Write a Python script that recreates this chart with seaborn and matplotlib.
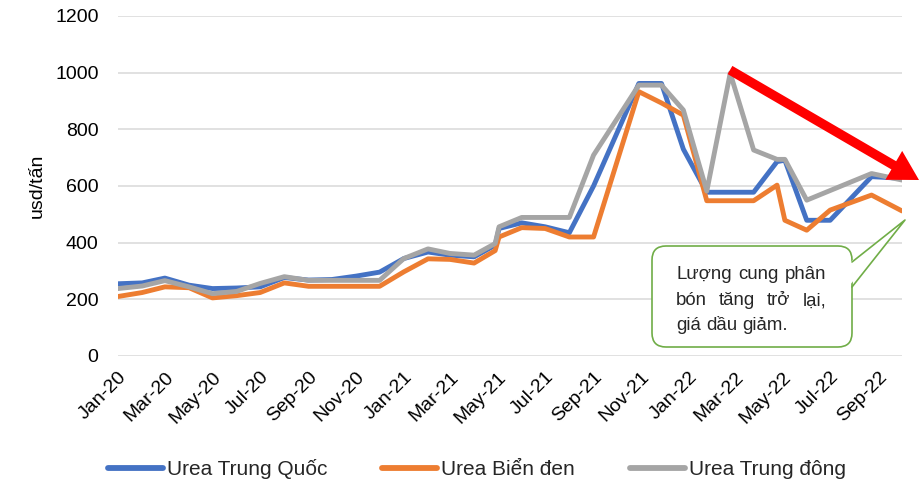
import numpy as np
import pandas as pd
import matplotlib.pyplot as plt
import matplotlib.dates as mdates
from matplotlib.patches import FancyBboxPatch, Polygon
from matplotlib.lines import Line2D
import seaborn as sns

sns.set_theme(style="white")
plt.rcParams["font.family"] = ["Liberation Sans", "DejaVu Sans"]

# ── data ────────────────────────────────────────────────────
DATES = [
    "2020-01-01", "2020-02-01", "2020-03-01", "2020-04-01", "2020-05-01",
    "2020-06-01", "2020-07-01", "2020-08-01", "2020-09-01", "2020-10-01",
    "2020-11-01", "2020-12-01", "2021-01-01", "2021-02-01", "2021-03-01",
    "2021-04-01", "2021-04-28", "2021-05-03", "2021-06-01", "2021-07-01",
    "2021-08-01", "2021-09-01", "2021-10-29", "2021-11-27", "2021-12-25",
    "2022-01-24", "2022-02-23", "2022-03-25", "2022-04-24", "2022-05-04",
    "2022-06-01", "2022-07-01", "2022-08-23", "2022-10-01",
]
UREA_CN = [255, 258, 275, 250, 238, 240, 244, 277, 268, 270, 282, 296,
           344, 367, 356, 350, 391, 450, 470, 456, 435, 600, 962, 962,
           730, 578, 578, 578, 686, 691, 479, 479, 633, 627]
UREA_BS = [210, 224, 244, 241, 205, 213, 224, 258, 246, 246, 246, 246,
           297, 343, 341, 328, 372, 420, 453, 450, 420, 420, 933, 893,
           850, 548, 548, 548, 603, 479, 444, 515, 568, 512]
UREA_ME = [238, 247, 266, 244, 220, 228, 256, 280, 267, 267, 267, 267,
           344, 378, 362, 356, 397, 456, 489, 489, 489, 709, 956, 956,
           868, 582, 998, 727, 694, 694, 550, 584, 644, 621]

SERIES = ["Urea Trung Quốc", "Urea Biển đen", "Urea Trung đông"]
COLORS = ["#4472C4", "#ED7D31", "#A5A5A5"]
Y_TICKS = [0, 200, 400, 600, 800, 1000, 1200]
NOTE_LINES = ["Lượng cung phân", "bón tăng trở lại,", "giá dầu giảm."]

df = pd.DataFrame({
    "date": pd.to_datetime(DATES * 3),
    "value": UREA_CN + UREA_BS + UREA_ME,
    "series": np.repeat(SERIES, len(DATES)),
})

W, H = 922, 482


def px(x, y):
    # pixel position (from top-left) -> inches for dpi_scale_trans
    return (x / 100, (H - y) / 100)


fig = plt.figure(figsize=(W / 100, H / 100), dpi=100)
ax = fig.add_axes([118 / W, 1 - 356 / H, (902 - 118) / W, (356 - 16) / H])

sns.lineplot(data=df, x="date", y="value", hue="series", hue_order=SERIES,
             palette=COLORS, linewidth=3.5, estimator=None, sort=False,
             legend=False, ax=ax)

ax.set_xlim(pd.Timestamp(DATES[0]), pd.Timestamp(DATES[-1]))
ax.set_ylim(0, 1200)
ax.set_yticks(Y_TICKS)
ax.yaxis.grid(True, color="#D9D9D9", lw=1.1)
ax.set_axisbelow(True)
for s in ax.spines.values():
    s.set_visible(False)

ax.xaxis.set_major_locator(mdates.MonthLocator(bymonth=[1, 3, 5, 7, 9, 11]))
ax.xaxis.set_major_formatter(mdates.DateFormatter("%b-%y"))
ax.tick_params(axis="both", length=0, labelsize=14, colors="#000000")
ax.tick_params(axis="y", pad=14)
ax.tick_params(axis="x", pad=9)
for lbl in ax.get_xticklabels():
    lbl.set_rotation(45)
    lbl.set_ha("right")
    lbl.set_va("top")
    lbl.set_rotation_mode("anchor")

ax.set_xlabel("")
ax.set_ylabel("usd/tấn", fontsize=14, color="#000000")
ax.yaxis.set_label_coords(-0.092, 0.5)

handles = [Line2D([], [], color=c, lw=4.2, solid_capstyle="round") for c in COLORS]
fig.legend(handles, SERIES, loc="center", bbox_to_anchor=(477 / W, 1 - 469 / H),
           ncol=3, frameon=False, fontsize=15, handlelength=2.64,
           handletextpad=0.2, columnspacing=2.63, borderpad=0)

# red trend arrow
ax.annotate("", xy=(919 / W, 1 - 180 / H), xytext=(730 / W, 1 - 70 / H),
            xycoords="figure fraction", textcoords="figure fraction",
            arrowprops=dict(facecolor="#FF0000", edgecolor="none", width=6.8,
                            headwidth=24, headlength=21, shrink=0))

# callout box
tr = fig.dpi_scale_trans
box = FancyBboxPatch(px(652, 347), 2.0, 1.01, boxstyle="round,pad=0,rounding_size=0.14",
                     facecolor="white", edgecolor="#70AD47", lw=1.2, transform=tr)
fig.add_artist(box)
fig.add_artist(Polygon([px(849, 263), px(905, 220), px(849, 286)], closed=True,
                       facecolor="white", edgecolor="none", transform=tr))
fig.add_artist(Line2D(*zip(px(852, 262), px(905, 220), px(852, 287)),
                      color="#70AD47", lw=1.2, transform=tr))

renderer = fig.canvas.get_renderer()
left, right = 676, 826
for k, (line, base) in enumerate(zip(NOTE_LINES, [279, 305, 330])):
    words = line.split()
    texts = [fig.text(0, 0, w, fontsize=13.4, va="baseline", transform=tr)
             for w in words]
    widths = [t.get_window_extent(renderer).width for t in texts]
    if k < len(NOTE_LINES) - 1:
        gap = (right - left - sum(widths)) / (len(words) - 1)
    else:
        gap = renderer.points_to_pixels(13.4) * 0.28
    x = left
    for t, w in zip(texts, widths):
        t.set_position(px(x, base))
        x += w + gap

fig.savefig("out.png", dpi=100)
